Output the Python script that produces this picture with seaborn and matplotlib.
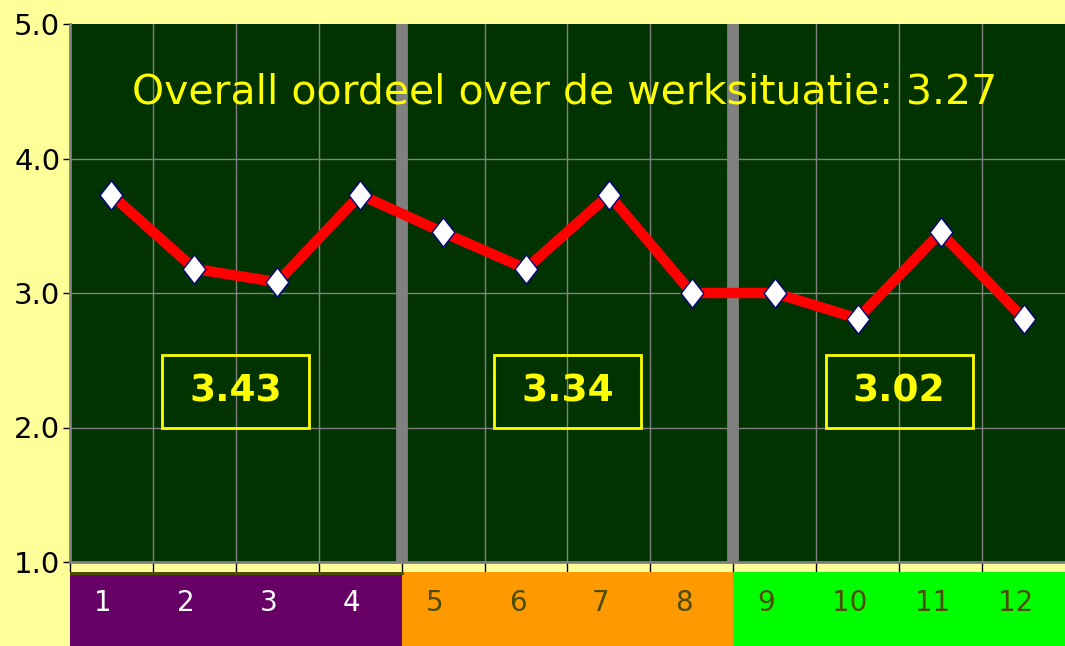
import numpy as np
import pandas as pd
import matplotlib.pyplot as plt
import seaborn as sns
from matplotlib.patches import Rectangle

# data
items = list(range(1, 13))
scores = [3.73, 3.18, 3.08, 3.73, 3.45, 3.18, 3.73, 3.00, 3.00, 2.81, 3.45, 2.81]
group_means = ["3.43", "3.34", "3.02"]
overall = "3.27"
title_text = "Overall oordeel over de werksituatie: " + overall
group_colors = ["#660066", "#FF9900", "#00FF00"]
label_colors = ["white", "#4D4D00", "#4D4D00"]

df = pd.DataFrame({"item": items, "score": scores})

sns.set_theme(style="white")
plt.rcParams["font.family"] = ["DejaVu Sans"]

W, H = 1065, 646
fig = plt.figure(figsize=(W / 100, H / 100), dpi=100, facecolor="#FFFF99")

left = 70 / W
ax = fig.add_axes([left, (H - 562) / H, 1 - left, (562 - 24) / H])
ax.set_facecolor("#003300")

# grid
for y in [2, 3, 4]:
    ax.axhline(y, color="#808080", lw=1, zorder=1)
for x in np.arange(1.5, 12.5, 1):
    if x in (4.5, 8.5):
        ax.axvline(x, color="#808080", lw=8.5, zorder=1)
    else:
        ax.axvline(x, color="#808080", lw=1, zorder=1)

diamond = [(0, 1), (0.78, 0), (0, -1), (-0.78, 0), (0, 1)]
sns.lineplot(data=df, x="item", y="score", ax=ax, color="red", lw=7.5,
             marker=diamond, markersize=21, markerfacecolor="white",
             markeredgecolor="#000080", markeredgewidth=1, zorder=3)

ax.set_xlim(0.5, 12.5)
ax.set_ylim(1, 5)
ax.set_yticks([1, 2, 3, 4, 5])
ax.set_yticklabels([f"{v:.1f}" for v in [1, 2, 3, 4, 5]], fontsize=21, color="black")
ax.set_xticks(np.arange(0.5, 12.5, 1))
ax.set_xticklabels([])
ax.tick_params(axis="y", length=5, width=1, color="black", pad=2, left=True)
ax.tick_params(axis="x", length=7, width=1, color="black", bottom=True, direction="out")
ax.set_xlabel("")
ax.set_ylabel("")
for s in ["top", "right"]:
    ax.spines[s].set_visible(False)
for s in ["left", "bottom"]:
    ax.spines[s].set_color("#808080")
    ax.spines[s].set_linewidth(2)

ax.text(6.47, 4.49, title_text, color="#FFFF00", fontsize=29.5,
        ha="center", va="center", zorder=4)

# group mean boxes
for g, txt in enumerate(group_means):
    cx = 2.5 + 4 * g
    ax.add_patch(Rectangle((cx - 0.885, 2.0), 1.77, 0.54, fill=False,
                           edgecolor="#FFFF00", lw=2, zorder=4))
    ax.text(cx, 2.27, txt, color="#FFFF00", fontsize=27, fontweight="bold",
            ha="center", va="center", zorder=4)

# coloured band with item numbers
band = fig.add_axes([left, 0, 1 - left, 74 / H])
band.set_xlim(0.5, 12.5)
band.set_ylim(0, 1)
band.axis("off")
for g in range(3):
    band.axvspan(0.5 + 4 * g, 4.5 + 4 * g, color=group_colors[g], lw=0)
band.plot([0.5, 4.5], [0.99, 0.99], color="#4D4D00", lw=2.5)
for i in items:
    g = (i - 1) // 4
    band.text(i - 0.1, 0.58, str(i), color=label_colors[g], fontsize=20,
              ha="center", va="center")

fig.savefig("out.png", dpi=100, facecolor=fig.get_facecolor())
